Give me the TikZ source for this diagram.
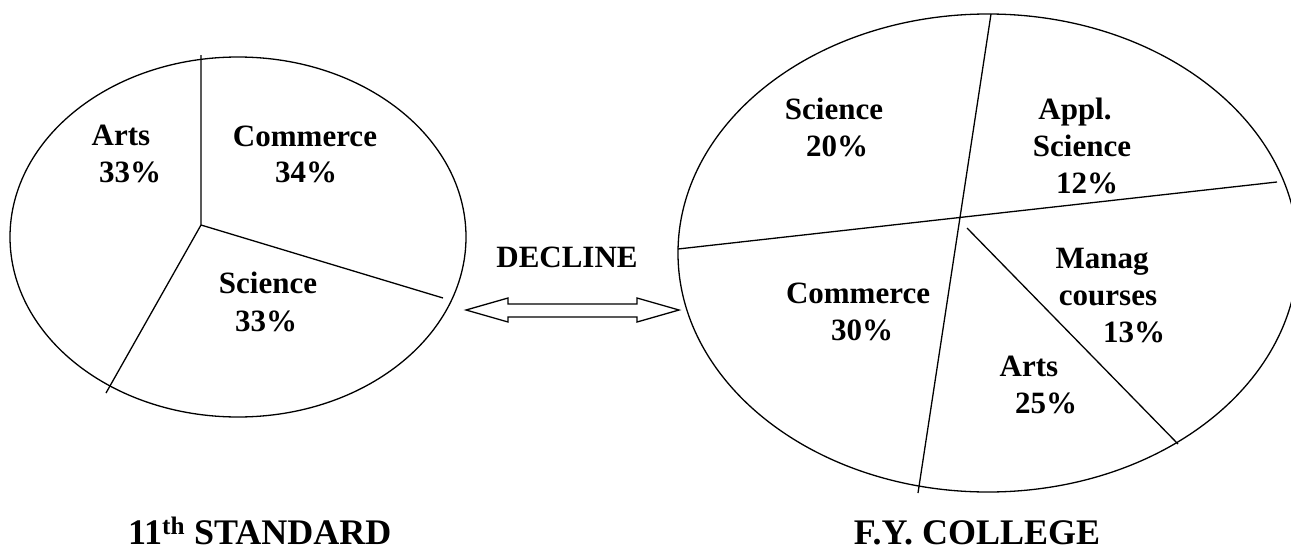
\documentclass[tikz,border=0pt]{standalone}
\usepackage{fontspec}
\setmainfont{Liberation Serif}
\begin{document}
\begin{tikzpicture}[x=1pt,y=-1pt,
  lbl/.style={font=\fontsize{31}{37}\selectfont\bfseries, inner sep=0pt, anchor=base},
  ttl/.style={font=\fontsize{36}{43}\selectfont\bfseries, inner sep=0pt,
    text depth=0pt, anchor=base},
  edge/.style={line width=1.3pt, black, line join=miter}]
\useasboundingbox (0,0) rectangle (1291,554);
\clip (0,0) rectangle (1291,554);

% ---- 11th standard pie ----
\draw[edge] (238,237) ellipse [x radius=228, y radius=180];
\coordinate (lc) at (201,225);
\coordinate (ltop) at (201,55);
\coordinate (lright) at (443,298);
\coordinate (lbot) at (106,393);
\draw[edge] (ltop) -- (lc) -- (lright);
\draw[edge] (lc) -- (lbot);

\node[lbl] (la1) at (121,145) {Arts};
\node[lbl] (la2) at (130,182) {33\%};
\node[lbl] (lc1) at (305,146) {Commerce};
\node[lbl] (lc2) at (306,182) {34\%};
\node[lbl] (ls1) at (268,293) {Science};
\node[lbl] (ls2) at (266,331) {33\%};

\node[ttl, anchor=base west] (lt) at (128,544) {11\textsuperscript{th} STANDARD};

% ---- F.Y. college pie ----
\draw[edge] (988,253) ellipse [x radius=310, y radius=239];
\coordinate (r1a) at (991,14);
\coordinate (r1b) at (918,493);
\coordinate (r2a) at (678,249);
\coordinate (r2b) at (1277,182);
\coordinate (r3a) at (967,228);
\coordinate (r3b) at (1178,444);
\draw[edge] (r1a) -- (r1b);
\draw[edge] (r2a) -- (r2b);
\draw[edge] (r3a) -- (r3b);

\node[lbl] (rs1) at (834,119) {Science};
\node[lbl] (rs2) at (837,156) {20\%};
\node[lbl] (ra1) at (1075,119) {Appl.};
\node[lbl] (ra2) at (1082,156) {Science};
\node[lbl] (ra3) at (1087,193) {12\%};
\node[lbl] (rm1) at (1102,268) {Manag};
\node[lbl] (rm2) at (1108,305) {courses};
\node[lbl] (rm3) at (1134,342) {13\%};
\node[lbl] (rc1) at (858,303) {Commerce};
\node[lbl] (rc2) at (862,340) {30\%};
\node[lbl] (rr1) at (1029,376) {Arts};
\node[lbl] (rr2) at (1046,413) {25\%};

\node[ttl] (rt) at (977,544) {F.Y. COLLEGE};

% ---- decline arrow ----
\node[lbl] (dec) at (567,267) {DECLINE};
\draw[edge] (466,310) -- (508,298) -- (508,304) -- (637,304) -- (637,298)
  -- (679,310) -- (637,322) -- (637,317) -- (508,317) -- (508,322) -- cycle;
\end{tikzpicture}
\end{document}
